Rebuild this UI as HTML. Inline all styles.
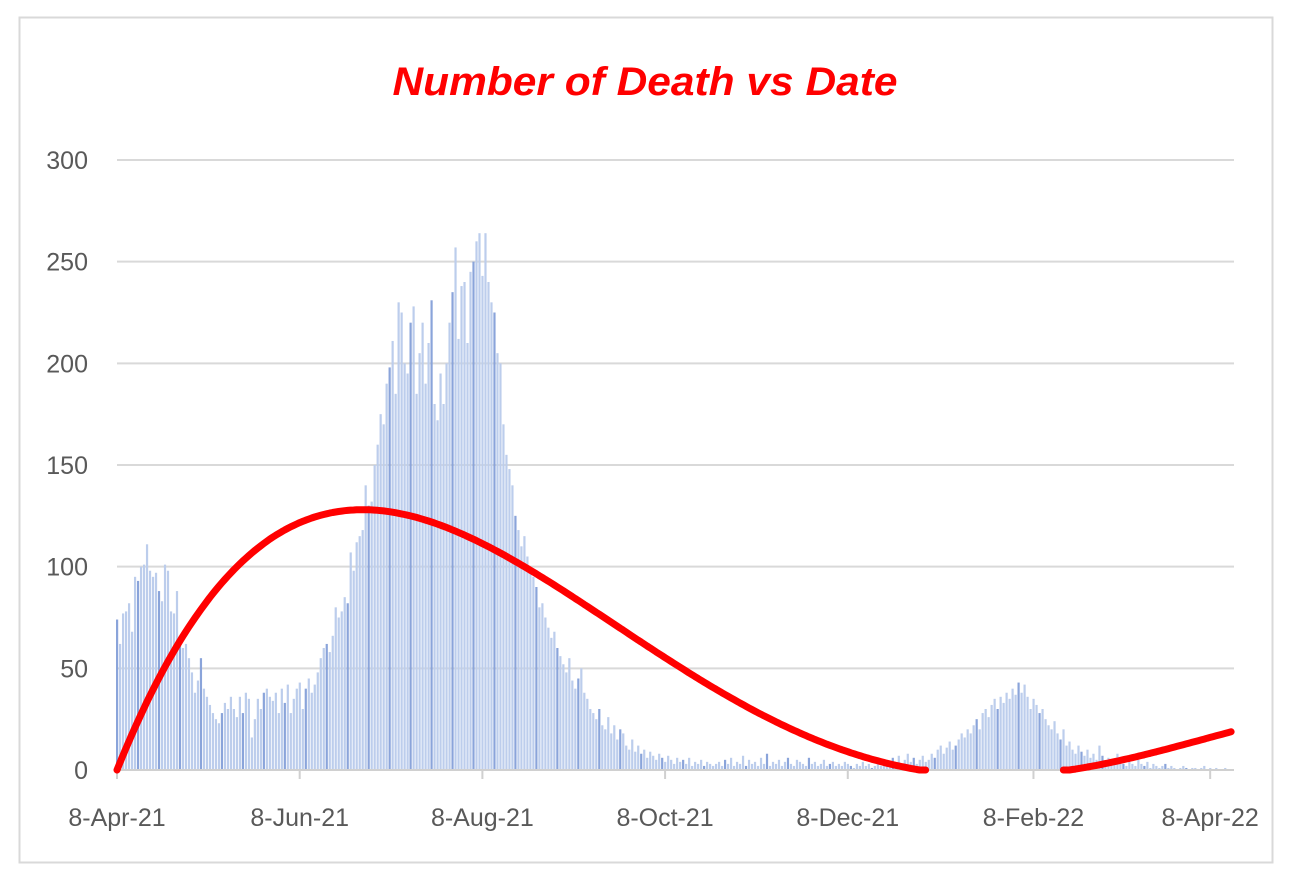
<!DOCTYPE html>
<html><head><meta charset="utf-8"><style>
body{margin:0;background:#fff;}
svg{display:block;font-family:"Liberation Sans",sans-serif;}
</style></head><body>
<svg id="chart" width="1290" height="879" viewBox="0 0 1290 879">
<rect x="19.5" y="17.5" width="1253" height="845" fill="#fff" stroke="#d9d9d9" stroke-width="2"/>
<text x="645" y="95" text-anchor="middle" font-size="40" font-weight="bold" font-style="italic" fill="#ff0000" textLength="505" lengthAdjust="spacingAndGlyphs">Number of Death vs Date</text>
<g id="grid"></g><g id="bars"></g><g id="axes"></g><g id="trend"></g>
</svg>
<script>
const yTicks=[0,50,100,150,200,250,300];
const xTickDays=[0,61,122,183,244,306,365];
const xTickLabels=["8-Apr-21","8-Jun-21","8-Aug-21","8-Oct-21","8-Dec-21","8-Feb-22","8-Apr-22"];
const deaths=[74,62,77,78,82,68,95,93,100,101,111,98,95,97,88,83,101,98,78,77,88,65,60,62,55,48,38,44,55,40,36,32,28,25,23,28,33,30,36,30,26,36,28,38,35,16,25,35,30,38,40,36,34,38,28,40,33,42,28,35,40,
43,30,40,45,38,42,48,55,60,62,58,66,80,75,78,85,82,107,98,112,115,118,140,130,132,150,160,175,170,190,198,
211,185,230,225,200,195,220,228,185,205,220,190,210,231,180,172,195,180,200,220,235,257,212,238,240,210,245,250,260,264,
243,264,240,230,225,205,200,170,155,148,140,125,118,110,115,105,100,95,90,80,82,75,70,65,68,60,56,52,48,
55,44,40,45,50,38,35,30,28,25,30,22,20,26,18,22,15,20,18,12,10,15,9,12,8,10,6,9,7,5,8,6,4,7,5,3,6,4,5,3,6,2,4,3,5,2,4,3,2,3,
4,2,5,3,6,2,4,3,7,2,5,3,4,2,6,3,8,2,4,3,5,2,4,6,3,2,5,4,3,2,6,3,4,2,3,5,2,3,4,2,3,2,4,3,2,1,3,2,4,2,3,1,2,3,2,4,5,3,6,2,7,3,5,8,4,6,3,5,7,4,
5,8,6,10,12,8,11,14,10,12,15,18,16,20,18,22,25,20,28,30,26,32,35,30,36,33,38,35,40,37,43,38,42,36,30,35,32,28,30,25,22,20,24,18,15,20,12,14,10,8,12,9,7,10,6,8,5,12,7,4,
6,4,3,8,5,3,2,4,3,2,5,3,2,4,1,3,2,1,2,3,1,2,1,0,1,2,1,0,1,1,0,1,2,0,1,0,1,0,0,1,0];
// polynomial trendline: scale * prod(d - root)
const trendRoots=[0,268,318,470];
const trendScale=[-9.166e-8];
const trendRange=[0,372];

const NS="http://www.w3.org/2000/svg";
const X0=117,PPD=2.995,Y0=770,PPU=610/300,XEND=1234;
const xs=d=>X0+d*PPD, ys=v=>Y0-v*PPU;
function mk(t,a,p){const e=document.createElementNS(NS,t);for(const k in a)e.setAttribute(k,a[k]);p.appendChild(e);return e;}
const grid=document.getElementById('grid'),bars=document.getElementById('bars'),axes=document.getElementById('axes'),trend=document.getElementById('trend');
yTicks.forEach(v=>{
  if(v>0){const l=mk('line',{x1:X0,x2:XEND,y1:ys(v),y2:ys(v),stroke:'#d9d9d9','stroke-width':2},grid);
  
  }
  const t=mk('text',{x:88,y:ys(v)+9,'text-anchor':'end','font-size':25,fill:'#595959'},axes);
  t.textContent=v;
  
  
});
deaths.forEach((v,i)=>{
  const dark=(i%7===0);
  const r=mk('rect',{x:xs(i)-1,y:ys(v),width:2.2,height:v*PPU,fill:dark?'#8aa4da':'#bccdec'},bars);
  
  
});
const ax=mk('line',{x1:X0,x2:XEND,y1:Y0,y2:Y0,stroke:'#d0d0d0','stroke-width':2},axes);


xTickDays.forEach((d,i)=>{
  const tk=mk('line',{x1:xs(d),x2:xs(d),y1:Y0,y2:Y0+9,stroke:'#d0d0d0','stroke-width':2},axes);
  
  
  const t=mk('text',{x:xs(d),y:826,'text-anchor':'middle','font-size':25,fill:'#595959'},axes);
  t.textContent=xTickLabels[i];
  
  
});
const segs=[];let cur=[];
for(let d=trendRange[0];d<=trendRange[1];d+=1){
  let v=trendScale[0];trendRoots.forEach(r=>{v*=(d-r);});
  if(v>=-0.5){cur.push(xs(d).toFixed(1)+','+ys(Math.max(0,v)).toFixed(1));}
  else if(cur.length){segs.push(cur);cur=[];}
}
if(cur.length)segs.push(cur);
segs.forEach((s,i)=>{
  const tl=mk('polyline',{points:s.join(' '),fill:'none',stroke:'#ff0000','stroke-width':7,'stroke-linejoin':'round','stroke-linecap':'round'},trend);
  
  
});
</script>
</body></html>
